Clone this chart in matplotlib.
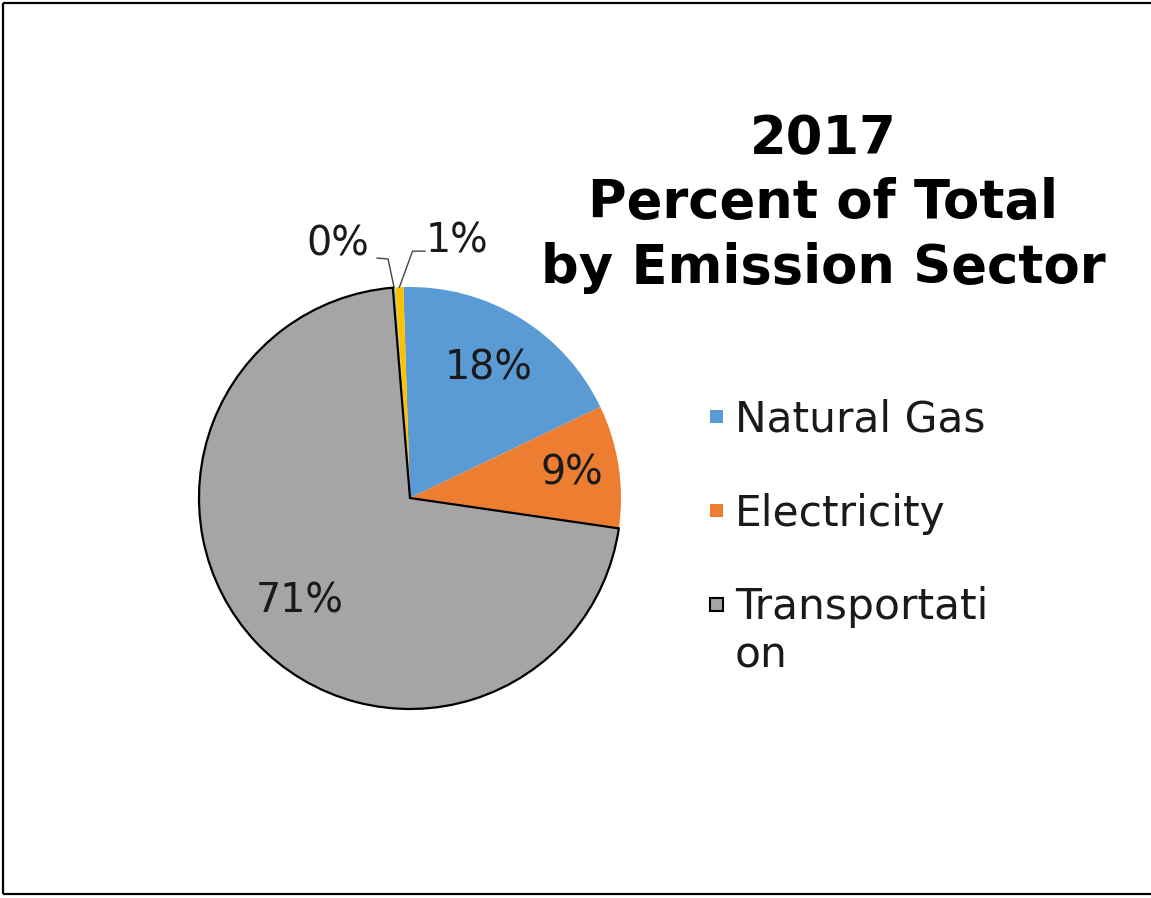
import numpy as np
import matplotlib
matplotlib.use('Agg')
import matplotlib.pyplot as plt
from matplotlib.patches import Rectangle
from matplotlib.lines import Line2D

# data (sector shares, %)
sectors = ['Natural Gas', 'Electricity', 'Transportation', 'Other A', 'Other B']
shares = [18.4, 9.4, 71.4, 0.2, 0.6]
colors = ['#5B9BD5', '#ED7D31', '#A5A5A5', '#8FC9B8', '#FFC000']
legend_labels = ['Natural Gas', 'Electricity', 'Transportati\non']
title_lines = ['2017', 'Percent of Total', 'by Emission Sector']

W, H = 1151, 898
fig = plt.figure(figsize=(W / 100, H / 100), dpi=100)
fig.patch.set_facecolor('white')

# pie axes: centre (410, 498) px, radius 211 px
cx, cy, r = 410, 498, 211
ax = fig.add_axes([(cx - r) / W, (H - cy - r) / H, 2 * r / W, 2 * r / H])


def pct(p):
    return '%1.0f%%' % p if p >= 5 else ''


wedges, _, autotexts = ax.pie(shares, colors=colors, startangle=91.8,
                              counterclock=False, radius=1,
                              autopct=pct, pctdistance=0.72,
                              wedgeprops=dict(linewidth=0),
                              textprops=dict(fontsize=28.5, color='#1a1a1a'))
ax.set_xlim(-1, 1)
ax.set_ylim(-1, 1)
ax.axis('off')

# transportation slice is outlined in black
wedges[2].set_edgecolor('black')
wedges[2].set_linewidth(1.6)
wedges[2].set_zorder(3)

# nudge the orange label outward like the original
autotexts[1].set_position(np.array(autotexts[1].get_position()) * 1.08)

# small slices: outside labels with elbow leader lines
total = sum(shares)
small = {3: ((-0.34, 1.20), (-0.156, 1.137), (-0.104, 1.133)),
         4: ((0.225, 1.215), (0.071, 1.17), (0.012, 1.17))}
for i, (txt_xy, p1, p2) in small.items():
    w = wedges[i]
    ang = np.deg2rad((w.theta1 + w.theta2) / 2)
    edge = (np.cos(ang), np.sin(ang))
    ax.plot([p1[0], p2[0], edge[0]], [p1[1], p2[1], edge[1]],
            color='#444444', lw=1.0, clip_on=False)
    ax.text(txt_xy[0], txt_xy[1], '%1.0f%%' % (shares[i] / total * 100),
            ha='center', va='center', fontsize=28.5, color='#1a1a1a',
            clip_on=False)

# title
for k, line in enumerate(title_lines):
    fig.text(823 / W, 1 - (139 + 64.5 * k) / H, line, ha='center',
             va='center', fontsize=38, fontweight='bold', color='black')

# legend drawn by hand to match the wrapped excel layout
first_baselines = [432, 526, 620]  # px from top
for k, lab in enumerate(legend_labels):
    yb = first_baselines[k]
    nlines = lab.count('\n')
    sq = 13
    rect = Rectangle((710 / W, 1 - (yb - 9) / H), sq / W, sq / H,
                     transform=fig.transFigure,
                     facecolor=wedges[k].get_facecolor(),
                     edgecolor='black' if k == 2 else 'none',
                     linewidth=1.5 if k == 2 else 0)
    fig.patches.append(rect)
    # multi-line text aligns on the last baseline
    fig.text(735 / W, 1 - (yb + 47 * nlines) / H, lab, ha='left',
             va='baseline', fontsize=30.5, color='#1a1a1a', linespacing=1.17)

# frame lines (top, left, bottom) like the cropped screenshot
for xs, ys in [((3 / W, 1), (1 - 3 / H, 1 - 3 / H)),
               ((3 / W, 3 / W), (1 - 3 / H, 1 - 894 / H)),
               ((3 / W, 1), (1 - 894 / H, 1 - 894 / H))]:
    fig.add_artist(Line2D(xs, ys, transform=fig.transFigure,
                          color='black', lw=1.6, solid_capstyle='butt'))

fig.savefig('out.png', dpi=100, facecolor='white')
